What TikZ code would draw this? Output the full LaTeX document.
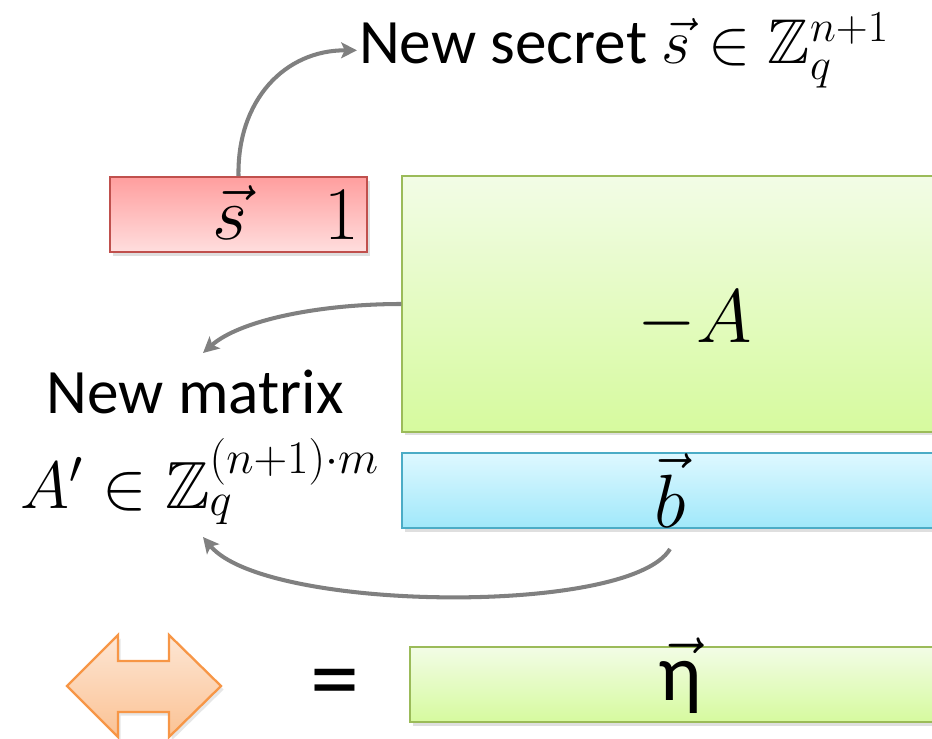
\RequirePackage{fix-cm}
\documentclass[tikz,border=0pt]{standalone}
\usepackage{amsmath,amssymb}
\usepackage{fontspec}
\newfontfamily\calibri{Carlito}
\usetikzlibrary{arrows.meta,shadows}
\definecolor{redtop}{RGB}{255,158,158}
\definecolor{redbot}{RGB}{255,222,222}
\definecolor{redline}{RGB}{192,80,77}
\definecolor{greentop}{RGB}{242,252,230}
\definecolor{greenbot}{RGB}{214,250,158}
\definecolor{greenline}{RGB}{155,187,89}
\definecolor{bluetop}{RGB}{222,248,255}
\definecolor{bluebot}{RGB}{160,232,250}
\definecolor{blueline}{RGB}{75,172,198}
\definecolor{orangetop}{RGB}{253,230,212}
\definecolor{orangebot}{RGB}{251,194,148}
\definecolor{orangeline}{RGB}{247,150,70}
\definecolor{linkgray}{RGB}{128,128,128}
\newcommand{\bigmath}{\fontsize{43}{50}\selectfont}
\newcommand{\labelfont}{\fontsize{36}{40}\selectfont\calibri}

\begin{document}
\begin{tikzpicture}[x=0.02cm, y=-0.02cm,
  box/.style={rectangle, draw, line width=0.9pt, inner sep=0pt,
              drop shadow={opacity=0.25, shadow xshift=1.5pt, shadow yshift=-2pt}},
  redbox/.style={box, draw=redline, top color=redtop, bottom color=redbot},
  greenbox/.style={box, draw=greenline, top color=greentop, bottom color=greenbot},
  bluebox/.style={box, draw=blueline, top color=bluetop, bottom color=bluebot},
  entry/.style={font=\bigmath, inner sep=0pt, anchor=base},
  label/.style={font=\labelfont, inner sep=1pt},
  link/.style={draw=linkgray, line width=2.3pt,
               -{Stealth[length=9pt, width=9pt, inset=2pt]}}
]
\useasboundingbox (0,0) rectangle (932,739);
\clip (0,0) rectangle (932,739);

% the blocks
\node[redbox, minimum width=5.14cm, minimum height=1.5cm] (sbox) at (238.5,214.5) {};
\node[greenbox, minimum width=11.76cm, minimum height=5.12cm] (Abox) at (696,304) {};
\node[bluebox, minimum width=11.76cm, minimum height=1.5cm] (bbox) at (696,490.5) {};
\node[greenbox, minimum width=11.6cm, minimum height=1.5cm] (etabox) at (700,684.5) {};

\node[entry] (svec) at (230,240) {$\vec{s}$};
\node[entry] (one) at (342,240) {$1$};
\node[entry] (negA) at (695,343) {$-A$};
\node[entry] (bvec) at (670,527) {$\vec{b}$};
\node[inner sep=0pt, anchor=base, font=\fontsize{46}{50}\selectfont] (etavec) at (680,700)
  {$\vec{\text{\calibri η}}$};

% the labels
\node[label, anchor=base west] (secret) at (357,64) {New secret $\vec{s}\in\mathbb{Z}_q^{n+1}$};
\node[label, anchor=base] (newmat) at (195,413) {New matrix};
\node[label, anchor=base, font=\fontsize{38}{42}\selectfont] (Aprime) at (200,508)
  {$A'\in\mathbb{Z}_q^{(n+1)\cdot m}$};
\coordinate (mattop) at (203,353);
\coordinate (matfoot) at (203,537);
\coordinate (bfoot) at (670,549);

% the links
\draw[link] (sbox.north) .. controls (237,100) and (285,50) .. (secret.west);
\draw[link] (Abox.west) .. controls (320,304) and (240,320) .. (mattop);
\draw[link] (bfoot) .. controls (630,616) and (265,612) .. (matfoot);

% equivalence and result
\draw[orangeline, line width=1.3pt, top color=orangetop, bottom color=orangebot,
      drop shadow={opacity=0.2, shadow xshift=1.5pt, shadow yshift=-2pt}]
  (67,686) -- (118,635) -- (118,661) -- (169,661) -- (169,635) -- (221,686)
  -- (169,737) -- (169,712) -- (118,712) -- (118,737) -- cycle;
\node[font=\fontsize{56}{60}\selectfont\calibri, inner sep=0pt] (equals) at (335,690) {=};
\end{tikzpicture}
\end{document}
